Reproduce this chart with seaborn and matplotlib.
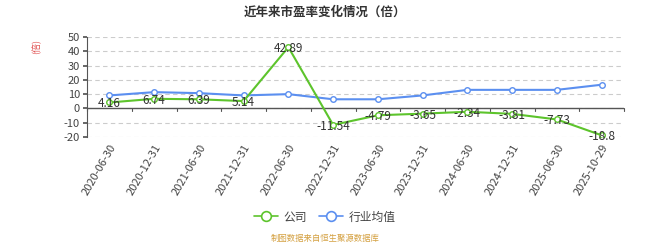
import matplotlib
matplotlib.use("Agg")
import matplotlib.pyplot as plt
import seaborn as sns
import pandas as pd
import numpy as np
from matplotlib.lines import Line2D

dates = ["2020-06-30", "2020-12-31", "2021-06-30", "2021-12-31", "2022-06-30", "2022-12-31",
         "2023-06-30", "2023-12-31", "2024-06-30", "2024-12-31", "2025-06-30", "2025-10-29"]
company = [4.16, 6.74, 6.39, 5.14, 42.89, -11.54, -4.79, -3.65, -2.34, -3.81, -7.73, -18.8]
industry = [9.1, 11.4, 10.7, 9.1, 10.0, 6.4, 6.4, 9.1, 13.0, 13.0, 13.0, 16.6]
yticks = [-20, -10, 0, 10, 20, 30, 40, 50]

sns.set_theme(style="white")
plt.rcParams['font.family'] = ['Noto Sans CJK SC', 'DejaVu Sans']

df = pd.DataFrame({"date": dates, "公司": company, "行业均值": industry})
x = np.arange(len(dates))
df["x"] = x

fig = plt.figure(figsize=(6.5, 2.44), dpi=100)
ax = fig.add_axes([87/650, 1-137/244, (624-87)/650, 100/244])

green = "#5dc42c"
blue = "#5b8ff0"
sns.lineplot(data=df, x="x", y="行业均值", ax=ax, color=blue, lw=1.5,
             marker="o", markersize=4, markerfacecolor="white", markeredgecolor=blue,
             markeredgewidth=1.0, zorder=3)
sns.lineplot(data=df, x="x", y="公司", ax=ax, color=green, lw=1.5,
             marker="o", markersize=4, markerfacecolor="white", markeredgecolor=green,
             markeredgewidth=1.0, zorder=4)

for xi, v in zip(x, company):
    ax.text(xi, v - 1.0, f"{v:g}", ha="center", va="center", fontsize=8.5, color="#333333", zorder=5)

ax.set_xlim(-0.5, len(dates) - 0.5)
ax.set_ylim(-20, 50)
ax.set_yticks(yticks)
ax.set_yticklabels([str(t) for t in yticks], fontsize=8, color="#444444")
ax.set_xticks(x)
ax.set_xticklabels(dates, rotation=60, ha="right", rotation_mode="anchor", fontsize=8, color="#444444")
ax.tick_params(axis="x", length=0, pad=4)
ax.tick_params(axis="y", length=3, color="#555555", pad=2, left=True)
ax.set_xlabel("")
ax.set_ylabel("")
for t in yticks:
    ax.axhline(t, color="#cccccc", lw=0.8, ls=(0, (4, 3)), zorder=0)
for s in ["top", "right", "bottom"]:
    ax.spines[s].set_visible(False)
ax.spines["left"].set_color("#555555")
ax.spines["left"].set_linewidth(0.8)
ax.axhline(0, color="#555555", lw=1.0, zorder=1)
for xi in np.arange(-0.5, len(dates) + 0.5, 1.0):
    ax.plot([xi, xi], [0, -1.8], color="#555555", lw=0.8, clip_on=False, zorder=1)

h1 = Line2D([], [], color=green, lw=1.2, marker="o", markersize=7, markerfacecolor="white",
            markeredgecolor=green, markeredgewidth=1.2)
h2 = Line2D([], [], color=blue, lw=1.2, marker="o", markersize=7, markerfacecolor="white",
            markeredgecolor=blue, markeredgewidth=1.2)
ax.legend([h1, h2], ["公司", "行业均值"], loc="center",
          bbox_to_anchor=(0.5, 1 - 217/244), bbox_transform=fig.transFigure, ncol=2,
          frameon=False, fontsize=8.5, handlelength=2.0, columnspacing=1.0, handletextpad=0.5,
          labelcolor="#444444")

fig.text(0.5, 1 - 12/244, "近年来市盈率变化情况（倍）", ha="center", va="center", fontsize=9, fontweight="bold", color="#333333")
fig.text(37/650, 1 - 46/244, "(倍)", ha="center", va="center", rotation=90, fontsize=6.5, color="#e05050")
fig.text(0.5, 1 - 238/244, "制图数据来自恒生聚源数据库", ha="center", va="center", fontsize=6, color="#d4a040")

fig.savefig("out.png", dpi=100)
